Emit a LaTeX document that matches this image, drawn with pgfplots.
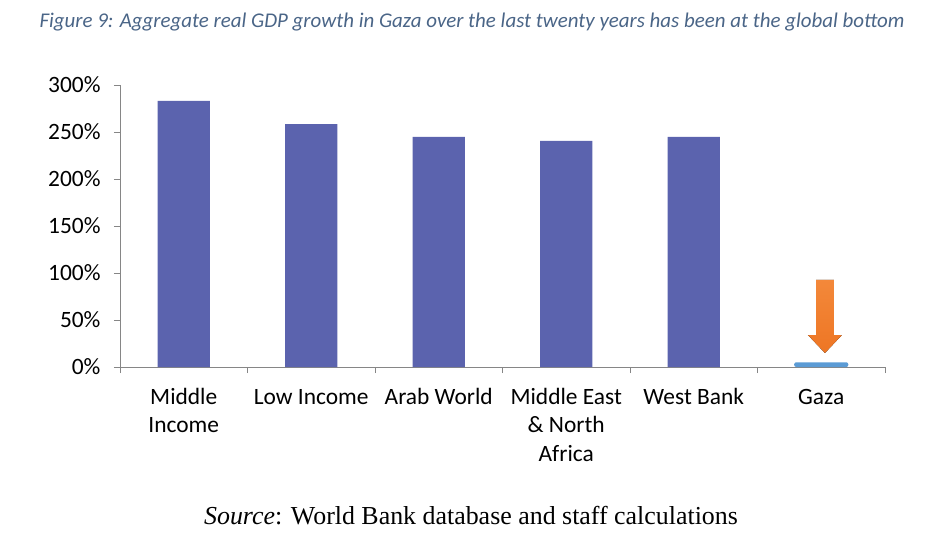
\documentclass[border=0pt]{standalone}
\usepackage{pgfplots}
\pgfplotsset{compat=1.18}
\usepackage{fontspec}
\setmainfont{Carlito}
\newfontfamily\timesfont{Liberation Serif}
\definecolor{barblue}{RGB}{91,99,174}
\definecolor{gazablue}{RGB}{91,155,213}
\definecolor{axisgray}{RGB}{134,134,134}
\definecolor{titlecol}{RGB}{74,101,135}
\begin{document}
\begin{tikzpicture}
\useasboundingbox (-120bp,-179bp) rectangle (806bp,367bp);
\begin{axis}[
  at={(0,0)}, anchor=south west,
  scale only axis, width=765bp, height=282bp,
  xmin=-0.5, xmax=5.5, ymin=0, ymax=300,
  axis x line=bottom, axis y line=left,
  axis line style={-, draw=axisgray, line width=0.8bp},
  ytick={0,50,...,300},
  yticklabel={\pgfmathprintnumber{\tick}\%},
  /pgf/number format/assume math mode=true,
  xtick={0,...,5},
  xticklabels={{Middle\\Income},{Low Income},{Arab World},{Middle East\\\& North\\Africa},{West Bank},{Gaza}},
  typeset ticklabels with strut,
  major x tick style={draw=none},
  minor xtick={-0.5,0.5,...,5.5},
  tick align=outside,
  major tick length=6bp, minor tick length=6bp,
  tick style={draw=axisgray, line width=0.8bp},
  ticklabel style={font=\fontsize{23.5}{28.5}\selectfont, text=black},
  x tick label style={align=center, yshift=-8bp},
  y tick label style={xshift=-10bp},
]
\addplot[ybar, fill=barblue, draw=none, bar width=0.41] coordinates {(0,283) (1,258.5) (2,244.7) (3,240.5) (4,244.7)};
\addplot[ybar, fill=gazablue, draw=none, bar width=0.424, rounded corners=2bp] coordinates {(5,5)};
\fill[top color={rgb,255:red,243;green,136;blue,58}, bottom color={rgb,255:red,238;green,118;blue,36}]
  (axis cs:4.959,92.6) -- (axis cs:5.099,92.6) -- (axis cs:5.099,34) -- (axis cs:5.162,34)
  -- (axis cs:5.029,14.9) -- (axis cs:4.896,34) -- (axis cs:4.959,34) -- cycle;
\end{axis}
\node[anchor=base west, font=\itshape\fontsize{21}{24}\selectfont, text=titlecol] at (-84bp,339bp)
  {Figure 9: Aggregate real GDP growth in Gaza over the last twenty years has been at the global bottom};
\node[anchor=base, font=\timesfont\fontsize{26}{30}\selectfont] at (351bp,-157bp)
  {\textit{Source}: World Bank database and staff calculations};
\end{tikzpicture}
\end{document}
